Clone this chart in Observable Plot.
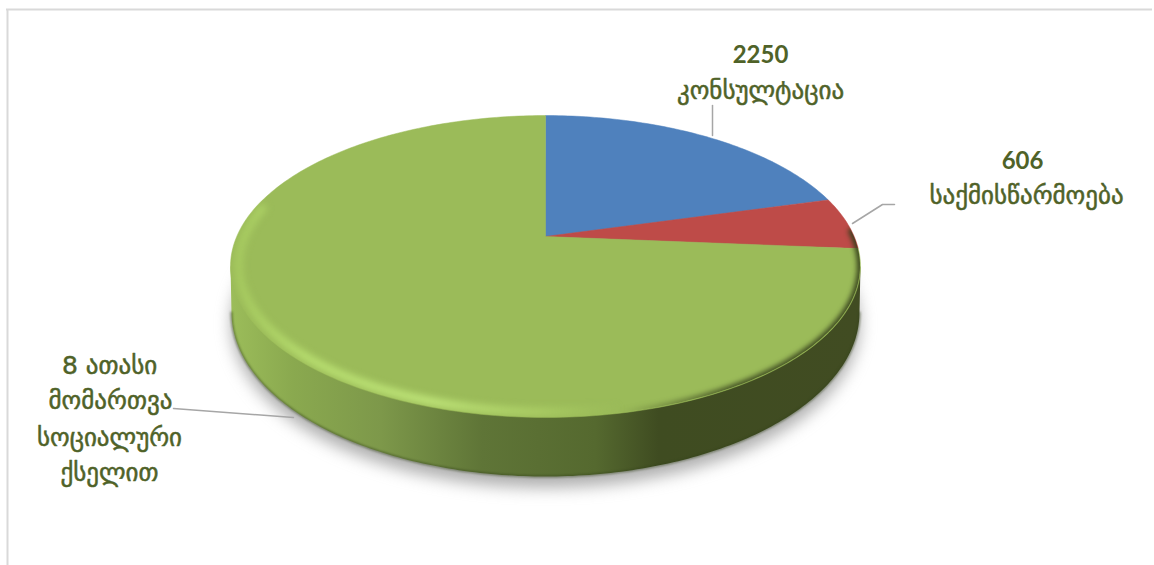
<!DOCTYPE html>
<html><head><meta charset="utf-8">
<script src="https://cdn.jsdelivr.net/npm/d3@7"></script>
<script src="https://cdn.jsdelivr.net/npm/@observablehq/plot@0.6"></script>
<style>html,body{margin:0;padding:0;background:#fff}svg{display:block}</style>
</head><body><div id="chart"></div>
<script>
const sliceNames = ["კონსულტაცია", "საქმისწარმოება", "სოციალური ქსელით"];
const sliceValues = [2250, 606, 8000];
const sliceColors = ["#4f81bd", "#be4b48", "#9bbb59"];

const labelLines = ["2250", "კონსულტაცია", "606", "საქმისწარმოება", "8 ათასი", "მომართვა", "სოციალური", "ქსელით"];
const labelBold = [true, false, true, false, false, false, false, false];

const W = 1154, H = 565;
// perspective view of the pie's unit disc
const view = {cx: 545, cy: 236, R: 308.7, h: 145, k: 0.1987};
const base = {cx: 545, cy: 312, rx: 314, ry: 164};
const labelX = [760, 760, 1022, 1026, 109, 110, 109, 109];
const labelY = [55, 90, 161, 195, 365, 400, 437, 472];
const leaders = [
  [[712, 105], [712, 135]],
  [[852, 223], [882, 204], [894, 204]],
  [[173, 408], [293, 417]]
];

const rad = d => d * Math.PI / 180;
function onTop(deg, scale = 1) {
  const u = Math.sin(rad(deg)) * scale, v = Math.cos(rad(deg)) * scale;
  const w = 1 + view.k * v;
  return {x: view.cx + view.R * u / w, y: view.cy - view.h * v / w};
}
const arc = (a, b, scale = 1) => {
  const n = Math.max(2, Math.ceil(Math.abs(b - a)));
  return Array.from({length: n + 1}, (_, i) => onTop(a + (b - a) * i / n, scale));
};
const total = d3.sum(sliceValues);
let acc = 0;
const slicePolys = sliceValues.map(v => {
  const a = acc / total * 360; acc += v; const b = acc / total * 360;
  return [{x: view.cx, y: view.cy}, ...arc(a, b), {x: view.cx, y: view.cy}];
});
const wideAngle = Math.acos(-view.k) * 180 / Math.PI;
const wideR = onTop(wideAngle), wideL = onTop(360 - wideAngle);
const baseArc = (dx = 0, dy = 0, from = 180, to = 360) => Array.from({length: 181}, (_, i) => {
  const t = rad(from + (to - from) * i / 180);
  return {x: base.cx + dx + base.rx * Math.cos(t), y: base.cy + dy - base.ry * Math.sin(t)};
});
const wallPoly = [wideL, ...baseArc(), wideR, wideL];
const shadowPoly = baseArc(0, 11, 0, 360);

const defs = () => {
  const d = d3.create("svg:defs");
  const grad = (id, stops) => {
    const g = d.append("linearGradient").attr("id", id).attr("gradientUnits", "userSpaceOnUse")
      .attr("x1", 229).attr("x2", 860).attr("y1", 0).attr("y2", 0);
    stops.forEach(([o, c, a = 1]) => g.append("stop").attr("offset", o).attr("stop-color", c).attr("stop-opacity", a));
  };
  grad("wall", [[0, "#9cbd5a"], [0.1, "#8aa94f"], [0.24, "#7d984a"], [0.4, "#5f7537"], [0.58, "#55692f"], [0.68, "#3f4c21"], [1, "#414c22"]]);
  grad("glow", [[0, "#aacf61", 0.7], [0.12, "#b8df70"], [0.32, "#c0e67a"], [0.5, "#b0d468", 0.7], [0.62, "#a6c860", 0]]);
  grad("dark", [[0.62, "#3f4c21", 0], [0.8, "#3f4c21", 0.95], [1, "#333d1a", 0.95]]);
  const clip = d.append("clipPath").attr("id", "topclip");
  clip.append("path").attr("d", d3.line().x(p => p.x).y(p => p.y)(arc(0, 360)) + "Z");
  return d.node();
};
const clipTop = (index, scales, channels, dims, context, next) => {
  const g = next(index, scales, channels, dims, context);
  const holder = document.createElementNS("http://www.w3.org/2000/svg", "g");
  holder.setAttribute("clip-path", "url(#topclip)");
  holder.appendChild(g);
  return holder;
};
const xy = {x: "x", y: "y"};
const labelRows = labelLines.map((text, i) => ({text, x: labelX[i], y: labelY[i], bold: labelBold[i]}));

const chart = Plot.plot({
  width: W, height: H, margin: 0,
  x: {domain: [0, W], range: [0, W], axis: null},
  y: {domain: [0, H], range: [0, H], axis: null},
  style: {background: "#fff"},
  marks: [
    defs,
    Plot.ruleX([7], {y1: 9, y2: H, stroke: "#d9d9d9", strokeWidth: 2}),
    Plot.ruleY([9], {x1: 6, x2: 1152, stroke: "#d9d9d9", strokeWidth: 2}),
    Plot.line(shadowPoly, {...xy, fill: "#8c8c8c", stroke: "none", fillOpacity: 0.7, imageFilter: "blur(8px)"}),
    Plot.line(wallPoly, {...xy, fill: "url(#wall)", stroke: "none"}),
    Plot.line(baseArc(), {...xy, stroke: "#34421a", strokeWidth: 2, strokeOpacity: 0.6, imageFilter: "blur(1px)"}),
    ...slicePolys.map((poly, i) => Plot.line(poly, {...xy, fill: sliceColors[i], stroke: sliceColors[i], strokeWidth: 0.5})),
    Plot.line(arc(150, 282, 0.975), {...xy, stroke: "url(#glow)", strokeWidth: 8, imageFilter: "blur(3.5px)", render: clipTop}),
    Plot.line(arc(88, 200, 1), {...xy, stroke: "url(#dark)", strokeWidth: 7, imageFilter: "blur(2.5px)", render: clipTop}),
    ...leaders.map(l => Plot.line(l, {x: d => d[0], y: d => d[1], stroke: "#a6a6a6", strokeWidth: 1.5, curve: "linear"})),
    Plot.text(labelRows.filter(d => d.bold), {x: "x", y: "y", text: "text", fill: "#4f6228", fontSize: 24, fontWeight: "bold", fontFamily: "Lato, 'DejaVu Sans', sans-serif"}),
    Plot.text(labelRows.filter(d => !d.bold), {x: "x", y: "y", text: "text", fill: "#4f6228", stroke: "#4f6228", strokeWidth: 0.5, fontSize: 25, fontFamily: "'DejaVu Sans', sans-serif"})
  ]
});
document.getElementById("chart").append(chart);
</script></body></html>
